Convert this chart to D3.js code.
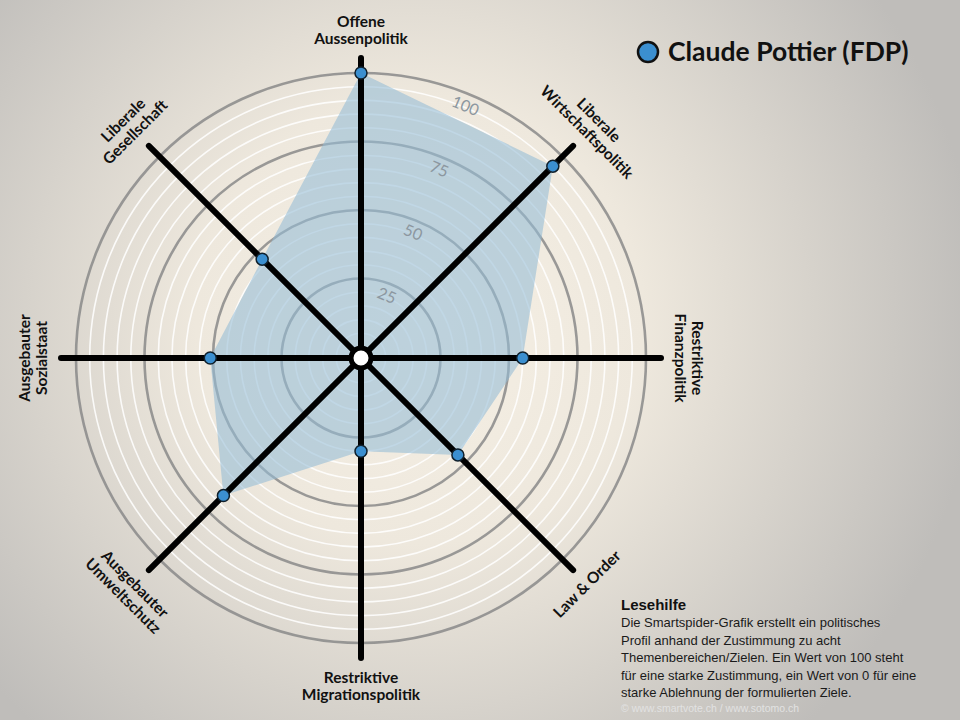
<!DOCTYPE html>
<html>
<head>
<meta charset="utf-8">
<script src="https://cdn.jsdelivr.net/npm/d3@7"></script>
<style>
  body { margin: 0; }
  svg { display: block; }
</style>
</head>
<body>
<svg id="chart" width="960" height="720"></svg>
<script>
// topics, clockwise from the top
var topics = [
  ["Offene", "Aussenpolitik"],
  ["Liberale", "Wirtschaftspolitik"],
  ["Restriktive", "Finanzpolitik"],
  ["Law & Order"],
  ["Restriktive", "Migrationspolitik"],
  ["Ausgebauter", "Umweltschutz"],
  ["Ausgebauter", "Sozialstaat"],
  ["Liberale", "Gesellschaft"]
];
var values = [100, 95, 55, 46, 30, 67, 51, 47];
var majorTicks = [25, 50, 75, 100];
var minorTicks = [5, 10, 15, 20, 30, 35, 40, 45, 55, 60, 65, 70, 80, 85, 90, 95];
var candidate = "Claude Pottier (FDP)";
var helpTitle = "Lesehilfe";
var helpLines = [
  "Die Smartspider-Grafik erstellt ein politisches",
  "Profil anhand der Zustimmung zu acht",
  "Themenbereichen/Zielen. Ein Wert von 100 steht",
  "für eine starke Zustimmung, ein Wert von 0 für eine",
  "starke Ablehnung der formulierten Ziele."
];
var credit = "© www.smartvote.ch / www.sotomo.ch";

var svg = d3.select("#chart");
var cx = 361, cy = 358;

// background
var defs = svg.append("defs");
var bg = defs.append("radialGradient")
  .attr("id", "bg")
  .attr("gradientUnits", "userSpaceOnUse")
  .attr("cx", 420).attr("cy", 320).attr("r", 560);
bg.append("stop").attr("offset", "0%").attr("stop-color", "#f6f0e5");
bg.append("stop").attr("offset", "40%").attr("stop-color", "#eee8dd");
bg.append("stop").attr("offset", "100%").attr("stop-color", "#bfbdba");
svg.append("rect").attr("width", 960).attr("height", 720).attr("fill", "url(#bg)");

var r = d3.scaleLinear().domain([0, 100]).range([11, 285]);
var angle = d3.scaleLinear().domain([0, topics.length]).range([0, 2 * Math.PI]);

function px(i, rad) { return cx + rad * Math.sin(angle(i)); }
function py(i, rad) { return cy - rad * Math.cos(angle(i)); }

var g = svg.append("g");

// rings
g.selectAll(".minor")
  .data(minorTicks)
  .enter().append("circle")
  .attr("class", "minor")
  .attr("cx", cx).attr("cy", cy)
  .attr("r", function(d) { return r(d); })
  .attr("fill", "none")
  .attr("stroke", "#ffffff")
  .attr("stroke-opacity", 0.85)
  .attr("stroke-width", 1.6);

g.selectAll(".major")
  .data(majorTicks)
  .enter().append("circle")
  .attr("class", "major")
  .attr("cx", cx).attr("cy", cy)
  .attr("r", function(d) { return r(d); })
  .attr("fill", "none")
  .attr("stroke", "#8a8a8a")
  .attr("stroke-opacity", 0.85)
  .attr("stroke-width", 2.6);

// profile area
var line = d3.lineRadial()
  .angle(function(d, i) { return angle(i); })
  .radius(function(d) { return r(d); })
  .curve(d3.curveLinearClosed);

g.append("path")
  .attr("transform", "translate(" + cx + "," + cy + ")")
  .attr("d", line(values))
  .attr("fill", "#94bbd6")
  .attr("fill-opacity", 0.58);

// tick labels
var tickAngle = Math.PI / 8;
g.selectAll(".tick")
  .data(majorTicks)
  .enter().append("text")
  .attr("class", "tick")
  .attr("transform", function(d) {
    var rr = r(d) - 12;
    return "translate(" + (cx + rr * Math.sin(tickAngle)) + "," + (cy - rr * Math.cos(tickAngle)) + ") rotate(22.5)";
  })
  .attr("text-anchor", "middle")
  .attr("dy", "0.35em")
  .attr("font-family", "Lato, sans-serif")
  .attr("font-size", 16)
  .attr("fill", "#8c97a0")
  .text(function(d) { return d; });

// axes
g.selectAll(".axis")
  .data(topics)
  .enter().append("line")
  .attr("class", "axis")
  .attr("x1", cx).attr("y1", cy)
  .attr("x2", function(d, i) { return px(i, 300); })
  .attr("y2", function(d, i) { return py(i, 300); })
  .attr("stroke", "#000")
  .attr("stroke-width", 6)
  .attr("stroke-linecap", "round");

g.append("circle")
  .attr("cx", cx).attr("cy", cy).attr("r", 10)
  .attr("fill", "#fff")
  .attr("stroke", "#000")
  .attr("stroke-width", 5);

// points
g.selectAll(".dot")
  .data(values)
  .enter().append("circle")
  .attr("class", "dot")
  .attr("cx", function(d, i) { return px(i, r(d)); })
  .attr("cy", function(d, i) { return py(i, r(d)); })
  .attr("r", 6)
  .attr("fill", "#3b8fd0")
  .attr("stroke", "#10202c")
  .attr("stroke-width", 1.5);

// topic labels
var lh = 17;
g.selectAll(".label")
  .data(topics)
  .enter().append("g")
  .attr("class", "label")
  .each(function(d, i) {
    var deg = i * 360 / topics.length;
    var bottom = deg > 90 && deg < 270;
    var rot = bottom ? deg - 180 : (deg > 180 ? deg - 360 : deg);
    var h = d.length * lh;
    var rr = 311 + h / 2;
    var self = d3.select(this)
      .attr("transform", "translate(" + px(i, rr) + "," + py(i, rr) + ") rotate(" + rot + ")");
    var t = self.append("text")
      .attr("text-anchor", "middle")
      .attr("font-family", "Lato, sans-serif")
      .attr("font-weight", 700)
      .attr("font-size", 15.5)
      .attr("fill", "#111");
    d.forEach(function(s, k) {
      t.append("tspan")
        .attr("x", 0)
        .attr("y", (k - (d.length - 1) / 2) * lh)
        .attr("dy", "0.35em")
        .text(s);
    });
  });

// legend
svg.append("circle")
  .attr("cx", 648).attr("cy", 52).attr("r", 10)
  .attr("fill", "#3b8fd0")
  .attr("stroke", "#111")
  .attr("stroke-width", 2.5);
svg.append("text")
  .attr("x", 668).attr("y", 61)
  .attr("font-family", "Lato, sans-serif")
  .attr("font-weight", 700)
  .attr("font-size", 26.5)
  .attr("fill", "#111")
  .text(candidate);

// reading help
svg.append("text")
  .attr("x", 621).attr("y", 610)
  .attr("font-family", "'Liberation Sans', Arial, sans-serif")
  .attr("font-weight", 700)
  .attr("font-size", 15)
  .attr("fill", "#111")
  .text(helpTitle);

svg.append("g").selectAll("text")
  .data(helpLines)
  .enter().append("text")
  .attr("x", 621)
  .attr("y", function(d, i) { return 627 + i * 17.5; })
  .attr("font-family", "'Liberation Sans', Arial, sans-serif")
  .attr("font-size", 13)
  .attr("fill", "#1a1a1a")
  .text(function(d) { return d; });

svg.append("text")
  .attr("x", 621).attr("y", 712)
  .attr("font-family", "'Liberation Sans', Arial, sans-serif")
  .attr("font-size", 10.5)
  .attr("fill", "#e2e2e2")
  .text(credit);
</script>
</body>
</html>
